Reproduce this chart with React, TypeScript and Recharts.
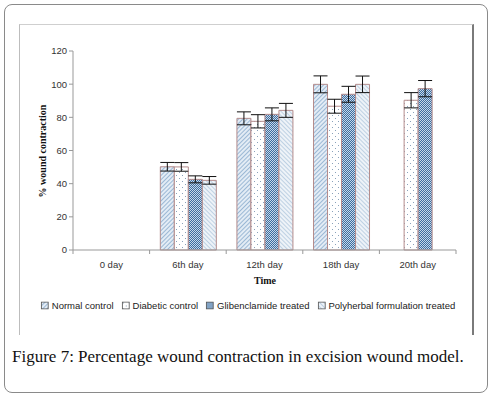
import { BarChart, Bar, XAxis, YAxis, ErrorBar } from 'recharts';

const days = ['0 day', '6th day', '12th day', '18th day', '20th day'];
const normalControl = [null, 50.2, 79.4, 99.9, null];
const normalErr = [null, 2.6, 3.9, 5.1, null];
const diabeticControl = [null, 50.1, 77.6, 86.7, 90.3];
const diabeticErr = [null, 2.6, 4.0, 4.2, 4.6];
const glibenclamide = [null, 42.6, 81.8, 93.9, 97.3];
const glibErr = [null, 2.1, 3.9, 4.8, 4.9];
const polyherbal = [null, 42.0, 84.2, 99.9, null];
const polyErr = [null, 2.3, 4.2, 5.0, null];
const yTicks = [0, 20, 40, 60, 80, 100, 120];

const seriesNames = ['Normal control', 'Diabetic control', 'Glibenclamide treated', 'Polyherbal formulation treated'];
const patternIds = ['pNormal', 'pDiabetic', 'pGlib', 'pPoly'];

const data = days.map((d, i) => ({
  day: d,
  normal: normalControl[i],
  normalErr: normalErr[i],
  diabetic: diabeticControl[i],
  diabeticErr: diabeticErr[i],
  glib: glibenclamide[i],
  glibErr: glibErr[i],
  poly: polyherbal[i],
  polyErr: polyErr[i],
}));

const CAT_W = 383 / 5;

const Patterns = () => (
  <defs>
    <pattern id="pNormal" width="3" height="3" patternUnits="userSpaceOnUse" patternTransform="rotate(45)">
      <rect width="3" height="3" fill="#e3ecf5" />
      <line x1="0" y1="0" x2="0" y2="3" stroke="#6b95c0" strokeWidth="1.2" />
    </pattern>
    <pattern id="pDiabetic" width="6" height="6" patternUnits="userSpaceOnUse">
      <rect width="6" height="6" fill="#ffffff" />
      <rect x="1" y="1" width="1" height="1" fill="#8aa2bb" />
      <rect x="4" y="4" width="1" height="1" fill="#8aa2bb" />
    </pattern>
    <pattern id="pGlib" width="2" height="2" patternUnits="userSpaceOnUse">
      <rect width="2" height="2" fill="#c6d8ea" />
      <rect x="0" y="0" width="1" height="1" fill="#3d6d9f" />
      <rect x="1" y="1" width="1" height="1" fill="#3d6d9f" />
    </pattern>
    <pattern id="pPoly" width="3" height="3" patternUnits="userSpaceOnUse" patternTransform="rotate(-45)">
      <rect width="3" height="3" fill="#eef3f8" />
      <line x1="0" y1="0" x2="0" y2="3" stroke="#8fb0cf" strokeWidth="1" />
    </pattern>
  </defs>
);

const XTick = (props: any) => {
  const { x, y, payload, index } = props;
  return (
    <g>
      <line x1={x - CAT_W / 2} y1={y} x2={x - CAT_W / 2} y2={y + 4} stroke="#999" />
      {index === days.length - 1 && (
        <line x1={x + CAT_W / 2} y1={y} x2={x + CAT_W / 2} y2={y + 4} stroke="#999" />
      )}
      <text x={x} y={y + 18} textAnchor="middle" fontSize={9.5} fill="#333" fontFamily="Liberation Sans, Arial, sans-serif">
        {payload.value}
      </text>
    </g>
  );
};

const barStroke = '#b48c8c';

export default function App() {
  return (
    <div style={{ position: 'absolute', left: 0, top: 0, width: 492, height: 399, background: '#fff' }}>
      <div style={{ position: 'absolute', left: 4, top: 4, width: 482, height: 387, border: '1.5px solid #8a8a8a', borderRadius: 8 }} />
      <div style={{ position: 'absolute', left: 19, top: 24, width: 452, height: 310, borderTop: '1px solid #cfcfcf', borderLeft: '1px solid #bdbdbd', borderRight: '2px solid #7a7a7a' }} />
      <div style={{ position: 'absolute', left: 19, top: 24 }}>
        <BarChart width={454} height={308} data={data} margin={{ top: 27, right: 17, left: 0, bottom: 0 }} barCategoryGap="14%" barGap={0}>
          <Patterns />
          <YAxis
            width={54}
            domain={[0, 120]}
            ticks={yTicks}
            interval={0}
            axisLine={{ stroke: '#999' }}
            tickLine={{ stroke: '#999' }}
            tickSize={4}
            tick={{ fontSize: 9.5, fill: '#333', fontFamily: 'Liberation Sans, Arial, sans-serif' }}
          />
          <XAxis dataKey="day" height={82} axisLine={{ stroke: '#999' }} tickLine={false} tickSize={0} tickMargin={0} tick={<XTick />} interval={0} />
          <Bar dataKey="normal" fill="url(#pNormal)" stroke={barStroke} strokeWidth={1} isAnimationActive={false}>
            <ErrorBar dataKey="normalErr" width={7} stroke="#111" strokeWidth={1} />
          </Bar>
          <Bar dataKey="diabetic" fill="url(#pDiabetic)" stroke={barStroke} strokeWidth={1} isAnimationActive={false}>
            <ErrorBar dataKey="diabeticErr" width={7} stroke="#111" strokeWidth={1} />
          </Bar>
          <Bar dataKey="glib" fill="url(#pGlib)" stroke={barStroke} strokeWidth={1} isAnimationActive={false}>
            <ErrorBar dataKey="glibErr" width={7} stroke="#111" strokeWidth={1} />
          </Bar>
          <Bar dataKey="poly" fill="url(#pPoly)" stroke={barStroke} strokeWidth={1} isAnimationActive={false}>
            <ErrorBar dataKey="polyErr" width={7} stroke="#111" strokeWidth={1} />
          </Bar>
        </BarChart>
      </div>
      <div style={{ position: 'absolute', left: 42, top: 151, transform: 'translate(-50%, -50%) rotate(-90deg)', fontFamily: 'Liberation Serif, serif', fontWeight: 'bold', fontSize: 10, whiteSpace: 'nowrap', color: '#111' }}>
        % wound contraction
      </div>
      <div style={{ position: 'absolute', left: 265, top: 280, transform: 'translate(-50%, -50%)', fontFamily: 'Liberation Serif, serif', fontWeight: 'bold', fontSize: 10, color: '#111' }}>
        Time
      </div>
      <div style={{ position: 'absolute', left: 248, top: 305, transform: 'translate(-50%, -50%)', display: 'flex', alignItems: 'center', whiteSpace: 'nowrap', fontFamily: 'Liberation Sans, Arial, sans-serif', fontSize: 9.5, color: '#222' }}>
        {seriesNames.map((n, i) => (
          <span key={n} style={{ display: 'flex', alignItems: 'center', marginRight: i < 3 ? 8 : 0 }}>
            <svg width={8} height={8} style={{ marginRight: 3 }}>
              <Patterns />
              <rect x={0.5} y={0.5} width={7} height={7} fill={`url(#${patternIds[i]})`} stroke="#555" strokeWidth={1} />
            </svg>
            {n}
          </span>
        ))}
      </div>
      <div style={{ position: 'absolute', left: 12, top: 347, fontFamily: 'Liberation Serif, serif', fontSize: 17, color: '#111', whiteSpace: 'nowrap' }}>
        Figure 7: Percentage wound contraction in excision wound model.
      </div>
    </div>
  );
}
